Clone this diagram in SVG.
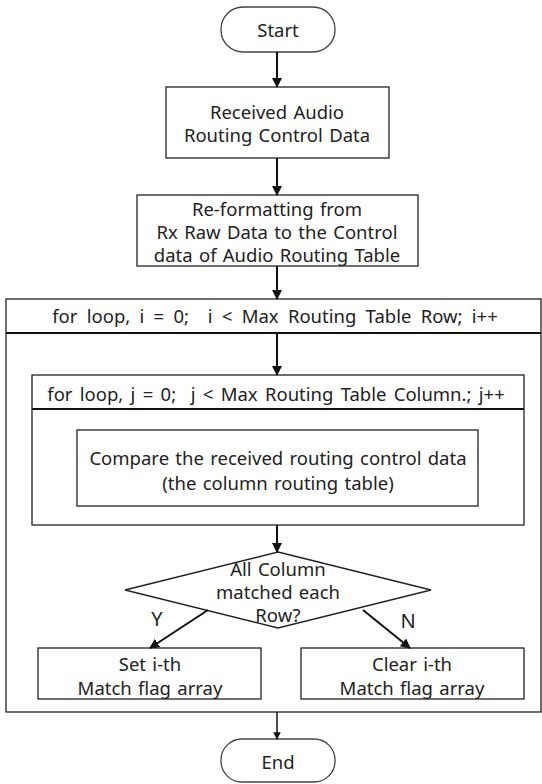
<svg xmlns="http://www.w3.org/2000/svg" width="542" height="784" viewBox="0 0 542 784">
<style>
.box{fill:#fff;stroke:#222;stroke-width:1.3}
.term{fill:#fff;stroke:#444;stroke-width:1.3}
.t{font-family:"Noto Sans","Open Sans",sans-serif;font-size:18.5px;fill:#222;text-anchor:middle;dominant-baseline:central;white-space:pre;word-spacing:1.5px}
.h1{word-spacing:4.5px}
.h2{word-spacing:2.5px}
.c{stroke:#111;stroke-width:2;fill:none;marker-end:url(#ah)}
</style>
<defs>
<marker id="ah" viewBox="0 0 10 10" refX="9" refY="5" markerWidth="5" markerHeight="5" orient="auto" markerUnits="strokeWidth">
<path d="M0,0L10,5L0,10z" fill="#111"/>
</marker>
</defs>
<g id="outer-loop">
<rect class="box" x="6" y="299" width="535" height="413"/>
<line x1="6" y1="333" x2="541" y2="333" stroke="#111" stroke-width="2"/>
<text class="t h1" x="275" y="315" xml:space="preserve">for loop, i = 0;  i &lt; Max Routing Table Row; i++</text>
</g>
<g id="inner-loop">
<rect class="box" x="32" y="375" width="492" height="150"/>
<line x1="32" y1="409" x2="524" y2="409" stroke="#111" stroke-width="2"/>
<text class="t h2" x="276" y="393" xml:space="preserve">for loop, j = 0;  j &lt; Max Routing Table Column.; j++</text>
</g>
<g id="start">
<rect class="term" x="221" y="7" width="114" height="45" rx="22"/>
<text class="t" x="278" y="29">Start</text>
</g>
<g id="received">
<rect class="box" x="166" y="87" width="223" height="71"/>
<text class="t" x="277" y="111">Received Audio</text>
<text class="t" x="277" y="134">Routing Control Data</text>
</g>
<g id="reformat">
<rect class="box" x="137" y="195" width="281" height="71"/>
<text class="t" x="277" y="208">Re-formatting from</text>
<text class="t" x="277" y="231">Rx Raw Data to the Control</text>
<text class="t" x="277" y="254">data of Audio Routing Table</text>
</g>
<g id="compare">
<rect class="box" x="77" y="430" width="401" height="76"/>
<text class="t" x="278" y="457">Compare the received routing control data</text>
<text class="t" x="278" y="482">(the column routing table)</text>
</g>
<g id="decision">
<polygon class="box" points="278,552 431,590 278,628 125,590"/>
<text class="t" x="278" y="568">All Column</text>
<text class="t" x="278" y="591">matched each</text>
<text class="t" x="278" y="614">Row?</text>
</g>
<g id="set">
<rect class="box" x="38" y="648" width="223" height="51"/>
<text class="t" x="150" y="663">Set i-th</text>
<text class="t" x="150" y="687">Match flag array</text>
</g>
<g id="clear">
<rect class="box" x="301" y="648" width="223" height="51"/>
<text class="t" x="412" y="663">Clear i-th</text>
<text class="t" x="412" y="687">Match flag array</text>
</g>
<g id="end">
<rect class="term" x="221" y="739" width="114" height="43" rx="21"/>
<text class="t" x="278" y="761">End</text>
</g>
<g id="connectors">
<line class="c" x1="277" y1="52" x2="277" y2="87"/>
<line class="c" x1="277" y1="158" x2="277" y2="195"/>
<line class="c" x1="277" y1="266" x2="277" y2="299"/>
<line class="c" x1="277" y1="333" x2="277" y2="375"/>
<line class="c" x1="277" y1="525" x2="277" y2="552"/>
<line class="c" x1="208" y1="610" x2="150" y2="648"/>
<line class="c" x1="363" y1="610" x2="410" y2="648"/>
<line class="c" x1="277" y1="712" x2="277" y2="739" style="stroke-width:1.5"/>
<text class="t" x="157" y="618" style="font-size:20px">Y</text>
<text class="t" x="408" y="620" style="font-size:20px">N</text>
</g>
</svg>
